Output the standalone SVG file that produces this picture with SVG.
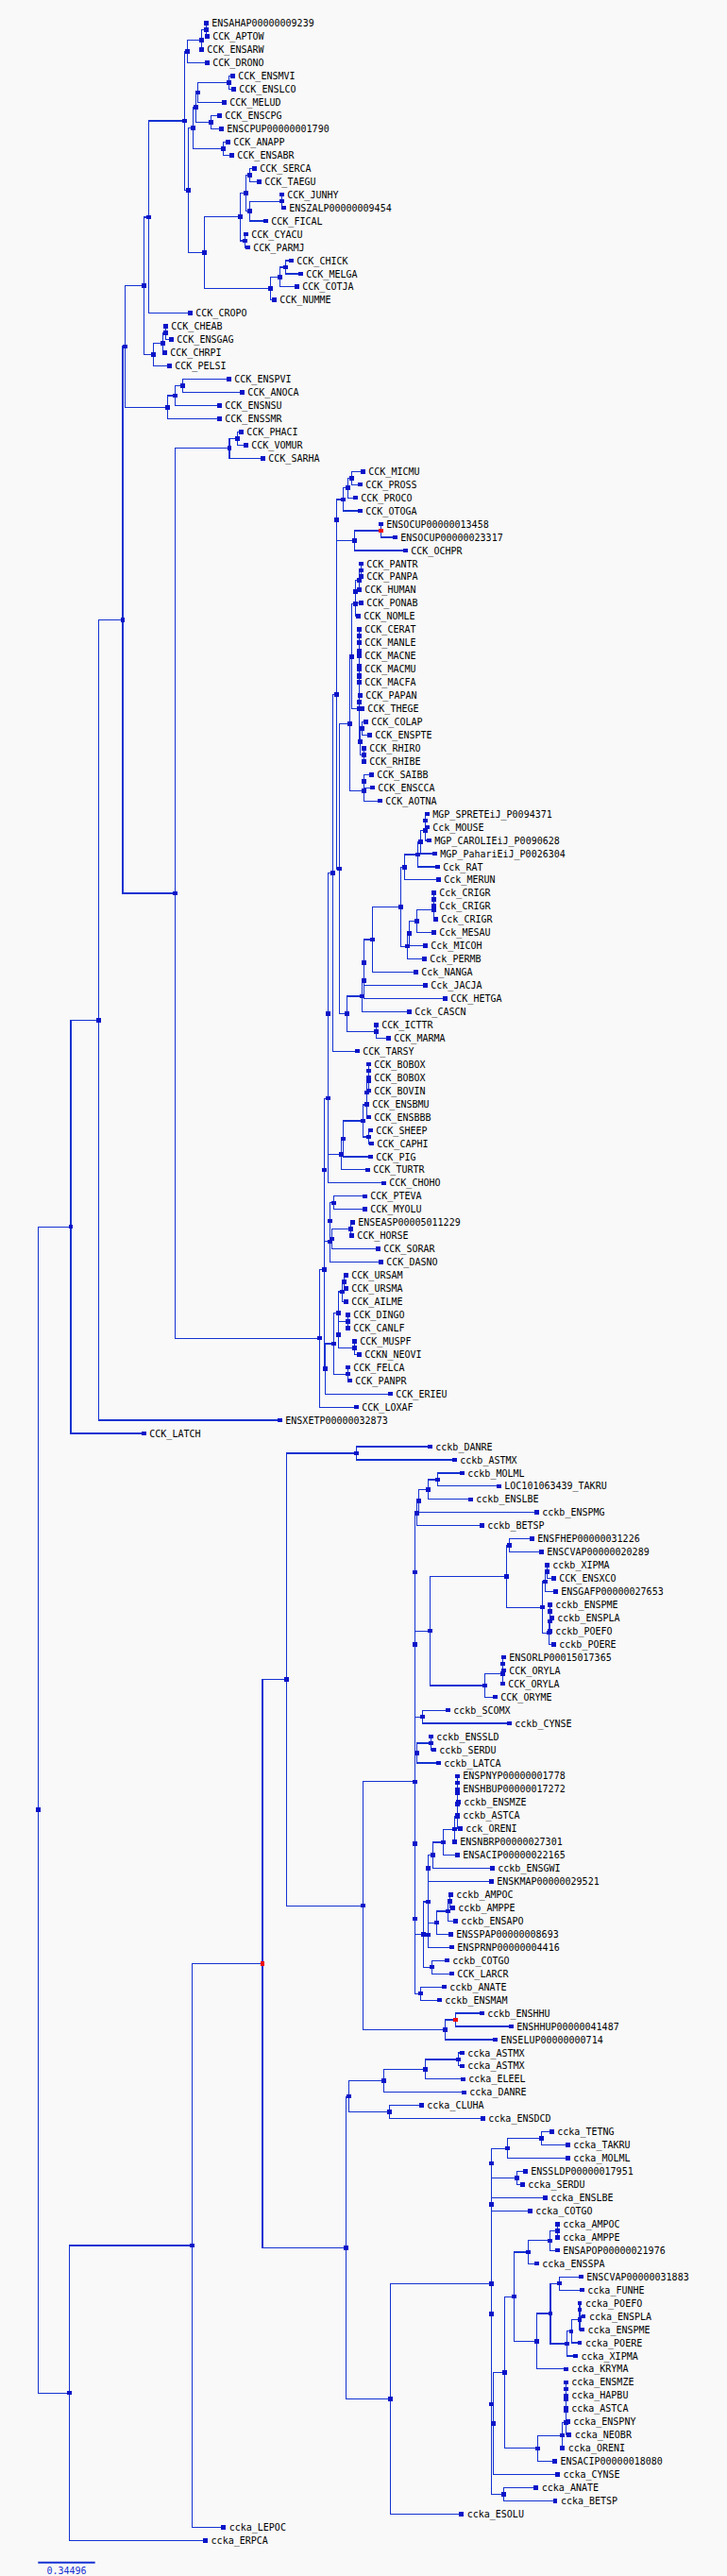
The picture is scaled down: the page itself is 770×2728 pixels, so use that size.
<svg xmlns="http://www.w3.org/2000/svg" xmlns:xlink="http://www.w3.org/1999/xlink" width="770" height="2728" viewBox="0 0 770 2728">
<style>
.br{fill:none;stroke:#1432d2;stroke-width:1.2;shape-rendering:crispEdges}
.nd{fill:#0a14c8;shape-rendering:crispEdges}
.rd{fill:#f00a0a;shape-rendering:crispEdges}
text{font-family:"DejaVu Sans Mono","Liberation Mono",monospace;font-size:10px;fill:#000}
.sc{fill:#1432d2;text-anchor:middle}
</style>
<defs><rect id="sq" x="-2.3" y="-2.3" width="4.6" height="4.6"/></defs>
<rect width="770" height="2728" fill="#f9f9f9"/>
<g id="connectors" class="br">
<path d="M218.3 24.7V38.7H219.3"/>
<path d="M218.3 31.7H213.3V52.6"/>
<path d="M213.3 42.2H198.3V66.6H219.3"/>
<path d="M246.3 80.5H242.3V94.5H247.3"/>
<path d="M242.3 87.5H209.3V108.4H237.3"/>
<path d="M232.3 122.4H223.3V136.3H234.3"/>
<path d="M209.3 98H207.3V129.4H223.3"/>
<path d="M241.3 150.3H236.3V164.3H245.3"/>
<path d="M207.3 113.7H204.3V157.3H236.3"/>
<path d="M269.3 178.2H264.3V192.2H274.3"/>
<path d="M298.3 206.1V220.1H300.3"/>
<path d="M298.3 213.1H264.3V234H281.3"/>
<path d="M264.3 185.2H260.3V223.6H264.3"/>
<path d="M260.3 248H259.3V261.9H262.3"/>
<path d="M260.3 204.4H254.3V255H259.3"/>
<path d="M308.3 275.9H302.3V289.9H318.3"/>
<path d="M302.3 282.9H296.3V303.8H314.3"/>
<path d="M296.3 293.4H286.3V317.8H290.3"/>
<path d="M254.3 229.7H216.3V305.6H286.3"/>
<path d="M204.3 135.5H199.3V267.7H216.3"/>
<path d="M198.3 54.4H195.3V201.6H199.3"/>
<path d="M195.3 128H157.3V331.7H201.3"/>
<path d="M175.3 345.7V359.6H181.3"/>
<path d="M175.3 352.7H172.3V373.6H174.3"/>
<path d="M172.3 363.2H162.3V387.5H179.3"/>
<path d="M157.3 229.9H152.3V375.4H162.3"/>
<path d="M242.3 401.5H193.3V415.4H256.3"/>
<path d="M193.3 408.5H185.3V429.4H232.3"/>
<path d="M185.3 419H177.3V443.4H232.3"/>
<path d="M152.3 302.7H132.3V431.2H177.3"/>
<path d="M255.3 457.3H251.7V471.3H260.3"/>
<path d="M251.7 464.3H243V485.2H278.3"/>
<path d="M384.3 499.2H372.3V513.1H381.3"/>
<path d="M372.3 506.2H368.3V527.1H376.3"/>
<path d="M368.3 516.7H363.3V541H381.3"/>
<path d="M403.3 555V569H418.3"/>
<path d="M403.3 562H375.3V582.9H429.3"/>
<path d="M363.3 528.9H356.3V572.5H375.3"/>
<path d="M382.3 596.9V610.8"/>
<path d="M382.3 603.9H380.3V624.8"/>
<path d="M380.3 614.4H376.3V638.7H382.3"/>
<path d="M376.3 626.6V652.7H379.3"/>
<path d="M380.3 666.6V680.6"/>
<path d="M380.3 708.5V722.5"/>
<path d="M380.3 694.5V715.5"/>
<path d="M380.3 673.6V705"/>
<path d="M381.3 736.4H380.3V750.4H383.3"/>
<path d="M380.3 689.3V743.4"/>
<path d="M387.3 764.3H383.3V778.3H391.3"/>
<path d="M385.3 792.2V806.2"/>
<path d="M383.3 771.3H381.3V799.2H385.3"/>
<path d="M380.3 716.4V785.3H381.3"/>
<path d="M376.3 639.7H372.3V750.8H380.3"/>
<path d="M393.3 820.2H385.3V834.1H394.3"/>
<path d="M385.3 827.2V848.1H402.3"/>
<path d="M372.3 695.3H370.3V837.7H385.3"/>
<path d="M452.3 862.1H450.3V876H452.3"/>
<path d="M450.3 869.1V890H454.3"/>
<path d="M450.3 879.6H445.3V903.9H460.3"/>
<path d="M445.3 891.8H442.3V917.9H463.3"/>
<path d="M442.3 904.9H428.3V931.8H464.3"/>
<path d="M459.3 945.8V959.7"/>
<path d="M459.3 952.8V973.7H461.3"/>
<path d="M459.3 963.3H441.3V987.7H459.3"/>
<path d="M441.3 975.5H433.3V1001.6H450.3"/>
<path d="M433.3 988.6H431.3V1015.6H449.3"/>
<path d="M428.3 918.4H424.3V1002.1H431.3"/>
<path d="M424.3 960.3H394.3V1029.5H440.3"/>
<path d="M394.3 994.9H385.3V1043.5H450.3"/>
<path d="M385.3 1019.2V1057.4H471.3"/>
<path d="M385.3 1038.3H383.3V1071.4H433.3"/>
<path d="M398.3 1085.3V1099.3H411.3"/>
<path d="M383.3 1054.9H367.3V1092.3H398.3"/>
<path d="M370.3 766.5H359.3V1073.6H367.3"/>
<path d="M356.3 550.7V920.1H359.3"/>
<path d="M356.3 735.4H352.3V1113.2H378.3"/>
<path d="M390.3 1127.2V1141.2"/>
<path d="M390.3 1134.2V1155.1"/>
<path d="M390.3 1144.7H388.3V1169.1"/>
<path d="M388.3 1156.9V1183H390.3"/>
<path d="M392.3 1197H390.3V1210.9H393.3"/>
<path d="M388.3 1170H384.3V1204H390.3"/>
<path d="M384.3 1187H363.3V1224.9H392.3"/>
<path d="M363.3 1206H361.3V1238.8H389.3"/>
<path d="M352.3 924.3H347.3V1222.4H361.3"/>
<path d="M347.3 1073.4V1252.8H406.3"/>
<path d="M386.3 1266.8H353.3V1280.7H386.3"/>
<path d="M373.3 1294.7H371.3V1308.6H372.3"/>
<path d="M371.3 1301.7H351.3V1322.6H400.3"/>
<path d="M353.3 1273.8H349.3V1312.2H351.3"/>
<path d="M349.3 1293V1336.5H403.3"/>
<path d="M347.3 1163.1H343.3V1314.8H349.3"/>
<path d="M366.3 1350.5H364.3V1364.4H366.3"/>
<path d="M364.3 1357.5H362.3V1378.4H366.3"/>
<path d="M368.3 1392.3V1406.3"/>
<path d="M375.3 1420.3V1434.3H380.3"/>
<path d="M368.3 1399.3H358.3V1427.3H375.3"/>
<path d="M362.3 1368H358.3V1413.3"/>
<path d="M368.3 1448.2V1462.2H370.3"/>
<path d="M358.3 1390.7H353.3V1455.2H368.3"/>
<path d="M353.3 1423H344.3V1476.1H413.3"/>
<path d="M343.3 1239V1449.6H344.3"/>
<path d="M343.3 1344.3H338.3V1490.1H377.3"/>
<path d="M243 474.8H185.3V1417.2H338.3"/>
<path d="M132.3 367H130V946H185.3"/>
<path d="M130 656.5H104.3V1504H296.3"/>
<path d="M104.3 1080.3H75V1518H152.3"/>
<path d="M455.3 1531.9H377.3V1545.9H481.3"/>
<path d="M489.3 1559.9H463.3V1573.8H528.3"/>
<path d="M463.3 1566.9H453.3V1587.8H498.3"/>
<path d="M453.3 1577.4H443.3V1601.7H568.3"/>
<path d="M443.3 1589.6H441.3V1615.7H510.3"/>
<path d="M563.3 1629.6H539.3V1643.6H573.3"/>
<path d="M579.3 1657.5V1671.5H586.3"/>
<path d="M579.3 1664.5H577.3V1685.5H588.3"/>
<path d="M582.3 1699.4V1713.4H584.3"/>
<path d="M582.3 1706.4V1727.3"/>
<path d="M582.3 1716.9H581.3V1741.3H586.3"/>
<path d="M577.3 1675H574.3V1729.1H581.3"/>
<path d="M539.3 1636.6H536.3V1702.1H574.3"/>
<path d="M533.3 1755.2H532.3V1769.2H533.3"/>
<path d="M532.3 1762.2V1783.1"/>
<path d="M532.3 1772.7H513.3V1797.1H524.3"/>
<path d="M536.3 1669.4H455.3V1784.9H513.3"/>
<path d="M441.3 1602.7H439.3V1727.2H455.3"/>
<path d="M474.3 1811.1H447.7V1825H539.3"/>
<path d="M439.3 1665V1818.1H447.7"/>
<path d="M456.3 1839V1852.9H459.3"/>
<path d="M456.3 1846H441.3V1866.9H464.3"/>
<path d="M484.3 1880.8V1894.8"/>
<path d="M484.3 1887.8V1908.7H485.3"/>
<path d="M484.3 1898.3V1922.7"/>
<path d="M484.3 1910.5V1936.6H487.3"/>
<path d="M484.3 1923.6H481.3V1950.6"/>
<path d="M481.3 1937.1H469.3V1964.6H484.3"/>
<path d="M469.3 1950.9H458.3V1978.5H521.3"/>
<path d="M458.3 1964.7H453.3V1992.5H520.3"/>
<path d="M477.3 2006.4H476.3V2020.4H479.3"/>
<path d="M476.3 2013.4H474.3V2034.3H482.3"/>
<path d="M474.3 2023.9H462.3V2048.3H477.3"/>
<path d="M462.3 2036.1H453.3V2062.2H478.3"/>
<path d="M453.3 1978.6V2049.2"/>
<path d="M473.3 2076.2H457.3V2090.2H478.3"/>
<path d="M453.3 2013.9H448.7V2083.2H457.3"/>
<path d="M441.3 1856.5H439.3V2048.6H448.7"/>
<path d="M470.3 2104.1H445.3V2118.1H465.3"/>
<path d="M439.3 1952.6V2111.1H445.3"/>
<path d="M439.3 1741.6V2031.9"/>
<path d="M510.3 2132H482.3V2146H541.3"/>
<path d="M482.3 2139H471.3V2159.9H524.3"/>
<path d="M439.3 1886.8H384.3V2149.5H471.3"/>
<path d="M377.3 1538.9H303.3V2018.2H384.3"/>
<path d="M489.3 2173.9H485.3V2187.8H489.3"/>
<path d="M485.3 2180.9H450.3V2201.8H490.3"/>
<path d="M450.3 2191.4H406.3V2215.8H491.3"/>
<path d="M446.3 2229.7H412.3V2243.7H511.3"/>
<path d="M406.3 2203.6H369.3V2236.7H412.3"/>
<path d="M584.3 2257.6H573.3V2271.6H601.3"/>
<path d="M573.3 2264.6H537.3V2285.5H601.3"/>
<path d="M556.3 2299.5H547.3V2313.4H553.3"/>
<path d="M537.3 2275.1H520.3V2306.5H547.3"/>
<path d="M577.3 2327.4H520.3V2341.4H561.3"/>
<path d="M590.3 2355.3V2369.3"/>
<path d="M590.3 2362.3H582.3V2383.2H590.3"/>
<path d="M582.3 2372.8H559.7V2397.2H568.3"/>
<path d="M615.3 2411.1H592.3V2425.1H616.3"/>
<path d="M614 2439.1V2453H617.9"/>
<path d="M614 2446.1V2467H616.4"/>
<path d="M614 2456.6H605.1V2480.9H614"/>
<path d="M605.1 2468.8H600.2V2494.9H609.5"/>
<path d="M592.3 2418.1H583V2481.9H600.2"/>
<path d="M583 2450H568.8V2508.8H599.2"/>
<path d="M559.7 2385H544.2V2479.4H568.8"/>
<path d="M599.2 2522.8V2536.8"/>
<path d="M599.2 2529.8V2550.7"/>
<path d="M599.2 2540.3V2564.7H601.2"/>
<path d="M599.2 2552.5V2578.6H602.7"/>
<path d="M599.2 2565.6H595.3V2592.6H595.8"/>
<path d="M595.3 2579.1H569.7V2606.5H587.4"/>
<path d="M544.2 2432.2H534.4V2592.8H569.7"/>
<path d="M534.4 2512.5H522.6V2620.5H590.4"/>
<path d="M520.3 2334.4H520.6V2566.5H522.6"/>
<path d="M567.8 2634.4H533.4V2648.4H587.9"/>
<path d="M520.6 2450.5V2641.4H533.4"/>
<path d="M520.3 2290.8V2546H520.6"/>
<path d="M520.3 2418.4H413.6V2662.4H488.7"/>
<path d="M369.3 2220.2H366.7V2540.4H413.6"/>
<path d="M303.3 1778.6H278V2380.3H366.7"/>
<path d="M278 2079.5H203.3V2676.3H236.7"/>
<path d="M203.3 2377.9H73.7V2690.3H217.6"/>
<path d="M75 1299.2H40.3V2534.1H73.7"/>
</g>
<g id="inner-nodes">
<g id="nA1"><use href="#sq" class="nd" x="218.3" y="31.7"/></g>
<g id="nA2"><use href="#sq" class="nd" x="213.3" y="42.2"/></g>
<g id="nA3"><use href="#sq" class="nd" x="198.3" y="54.4"/></g>
<g id="nB1"><use href="#sq" class="nd" x="242.3" y="87.5"/></g>
<g id="nB2"><use href="#sq" class="nd" x="209.3" y="98"/></g>
<g id="nB3"><use href="#sq" class="nd" x="223.3" y="129.4"/></g>
<g id="nB4"><use href="#sq" class="nd" x="207.3" y="113.7"/></g>
<g id="nB5"><use href="#sq" class="nd" x="236.3" y="157.3"/></g>
<g id="nB6"><use href="#sq" class="nd" x="204.3" y="135.5"/></g>
<g id="nI"><use href="#sq" class="nd" x="264.3" y="185.2"/></g>
<g id="nK"><use href="#sq" class="nd" x="298.3" y="213.1"/></g>
<g id="nJ"><use href="#sq" class="nd" x="264.3" y="223.6"/></g>
<g id="nG"><use href="#sq" class="nd" x="260.3" y="204.4"/></g>
<g id="nH"><use href="#sq" class="nd" x="259.3" y="255"/></g>
<g id="nE"><use href="#sq" class="nd" x="254.3" y="229.7"/></g>
<g id="nM"><use href="#sq" class="nd" x="302.3" y="282.9"/></g>
<g id="nL"><use href="#sq" class="nd" x="296.3" y="293.4"/></g>
<g id="nF"><use href="#sq" class="nd" x="286.3" y="305.6"/></g>
<g id="nD"><use href="#sq" class="nd" x="216.3" y="267.7"/></g>
<g id="nC"><use href="#sq" class="nd" x="199.3" y="201.6"/></g>
<g id="nA4"><use href="#sq" class="nd" x="195.3" y="128"/></g>
<g id="nN"><use href="#sq" class="nd" x="157.3" y="229.9"/></g>
<g id="nR"><use href="#sq" class="nd" x="175.3" y="352.7"/></g>
<g id="nQ"><use href="#sq" class="nd" x="172.3" y="363.2"/></g>
<g id="nP"><use href="#sq" class="nd" x="162.3" y="375.4"/></g>
<g id="nO"><use href="#sq" class="nd" x="152.3" y="302.7"/></g>
<g id="nV"><use href="#sq" class="nd" x="193.3" y="408.5"/></g>
<g id="nU"><use href="#sq" class="nd" x="185.3" y="419"/></g>
<g id="nT"><use href="#sq" class="nd" x="177.3" y="431.2"/></g>
<g id="nS"><use href="#sq" class="nd" x="132.3" y="367"/></g>
<g id="nW"><use href="#sq" class="nd" x="251.7" y="464.3"/></g>
<g id="nMN"><use href="#sq" class="nd" x="243" y="474.8"/></g>
<g id="nm1"><use href="#sq" class="nd" x="372.3" y="506.2"/></g>
<g id="nm2"><use href="#sq" class="nd" x="368.3" y="516.7"/></g>
<g id="nm3"><use href="#sq" class="nd" x="363.3" y="528.9"/></g>
<g id="nROC"><use href="#sq" class="rd" x="403.3" y="562"/></g>
<g id="nLago"><use href="#sq" class="nd" x="375.3" y="572.5"/></g>
<g id="nE1"><use href="#sq" class="nd" x="356.3" y="550.7"/></g>
<g id="nh1"><use href="#sq" class="nd" x="382.3" y="603.9"/></g>
<g id="nh2"><use href="#sq" class="nd" x="380.3" y="614.4"/></g>
<g id="nh3"><use href="#sq" class="nd" x="376.3" y="626.6"/></g>
<g id="nh4"><use href="#sq" class="nd" x="376.3" y="639.7"/></g>
<g id="nc1"><use href="#sq" class="nd" x="380.3" y="673.6"/></g>
<g id="nc2"><use href="#sq" class="nd" x="380.3" y="715.5"/></g>
<g id="nc3"><use href="#sq" class="nd" x="380.3" y="705"/></g>
<g id="nc4"><use href="#sq" class="nd" x="380.3" y="689.3"/></g>
<g id="nc6"><use href="#sq" class="nd" x="380.3" y="743.4"/></g>
<g id="nc5"><use href="#sq" class="nd" x="380.3" y="716.4"/></g>
<g id="ncol1"><use href="#sq" class="nd" x="383.3" y="771.3"/></g>
<g id="ncol2"><use href="#sq" class="nd" x="385.3" y="799.2"/></g>
<g id="ncol"><use href="#sq" class="nd" x="381.3" y="785.3"/></g>
<g id="nOWM"><use href="#sq" class="nd" x="380.3" y="750.8"/></g>
<g id="nCat"><use href="#sq" class="nd" x="372.3" y="695.3"/></g>
<g id="nn1"><use href="#sq" class="nd" x="385.3" y="827.2"/></g>
<g id="nn2"><use href="#sq" class="nd" x="385.3" y="837.7"/></g>
<g id="nPR"><use href="#sq" class="nd" x="370.3" y="766.5"/></g>
<g id="nmo1"><use href="#sq" class="nd" x="450.3" y="869.1"/></g>
<g id="nmo2"><use href="#sq" class="nd" x="450.3" y="879.6"/></g>
<g id="nmo3"><use href="#sq" class="nd" x="445.3" y="891.8"/></g>
<g id="nmo4"><use href="#sq" class="nd" x="442.3" y="904.9"/></g>
<g id="nmo5"><use href="#sq" class="nd" x="428.3" y="918.4"/></g>
<g id="nk1"><use href="#sq" class="nd" x="459.3" y="952.8"/></g>
<g id="nk2"><use href="#sq" class="nd" x="459.3" y="963.3"/></g>
<g id="nk3"><use href="#sq" class="nd" x="441.3" y="975.5"/></g>
<g id="nk4"><use href="#sq" class="nd" x="433.3" y="988.6"/></g>
<g id="nk5"><use href="#sq" class="nd" x="431.3" y="1002.1"/></g>
<g id="nmc"><use href="#sq" class="nd" x="424.3" y="960.3"/></g>
<g id="nr1"><use href="#sq" class="nd" x="394.3" y="994.9"/></g>
<g id="nr3"><use href="#sq" class="nd" x="385.3" y="1019.2"/></g>
<g id="nr2"><use href="#sq" class="nd" x="385.3" y="1038.3"/></g>
<g id="nr4"><use href="#sq" class="nd" x="383.3" y="1054.9"/></g>
<g id="nsq"><use href="#sq" class="nd" x="398.3" y="1092.3"/></g>
<g id="nROD"><use href="#sq" class="nd" x="367.3" y="1073.6"/></g>
<g id="nG1"><use href="#sq" class="nd" x="359.3" y="920.1"/></g>
<g id="nP1"><use href="#sq" class="nd" x="356.3" y="735.4"/></g>
<g id="nQ1"><use href="#sq" class="nd" x="352.3" y="924.3"/></g>
<g id="nb1"><use href="#sq" class="nd" x="390.3" y="1134.2"/></g>
<g id="nb2"><use href="#sq" class="nd" x="390.3" y="1144.7"/></g>
<g id="nb3"><use href="#sq" class="nd" x="388.3" y="1156.9"/></g>
<g id="nb4"><use href="#sq" class="nd" x="388.3" y="1170"/></g>
<g id="nsh"><use href="#sq" class="nd" x="390.3" y="1204"/></g>
<g id="nrum"><use href="#sq" class="nd" x="384.3" y="1187"/></g>
<g id="nart"><use href="#sq" class="nd" x="363.3" y="1206"/></g>
<g id="ncet"><use href="#sq" class="nd" x="361.3" y="1222.4"/></g>
<g id="nQ2"><use href="#sq" class="nd" x="347.3" y="1073.4"/></g>
<g id="nQ3"><use href="#sq" class="nd" x="347.3" y="1163.1"/></g>
<g id="nbat"><use href="#sq" class="nd" x="353.3" y="1273.8"/></g>
<g id="neq"><use href="#sq" class="nd" x="371.3" y="1301.7"/></g>
<g id="nQ9"><use href="#sq" class="nd" x="351.3" y="1312.2"/></g>
<g id="nQ8"><use href="#sq" class="nd" x="349.3" y="1293"/></g>
<g id="nQ7"><use href="#sq" class="nd" x="349.3" y="1314.8"/></g>
<g id="nQ4"><use href="#sq" class="nd" x="343.3" y="1239"/></g>
<g id="nbear1"><use href="#sq" class="nd" x="364.3" y="1357.5"/></g>
<g id="nbear"><use href="#sq" class="nd" x="362.3" y="1368"/></g>
<g id="ncan"><use href="#sq" class="nd" x="368.3" y="1399.3"/></g>
<g id="nmus"><use href="#sq" class="nd" x="375.3" y="1427.3"/></g>
<g id="nC2"><use href="#sq" class="nd" x="358.3" y="1413.3"/></g>
<g id="nC1"><use href="#sq" class="nd" x="358.3" y="1390.7"/></g>
<g id="nfel"><use href="#sq" class="nd" x="368.3" y="1455.2"/></g>
<g id="nC0"><use href="#sq" class="nd" x="353.3" y="1423"/></g>
<g id="nQ6"><use href="#sq" class="nd" x="344.3" y="1449.6"/></g>
<g id="nQ5"><use href="#sq" class="nd" x="343.3" y="1344.3"/></g>
<g id="nEU"><use href="#sq" class="nd" x="338.3" y="1417.2"/></g>
<g id="nM0"><use href="#sq" class="nd" x="185.3" y="946"/></g>
<g id="nAM"><use href="#sq" class="nd" x="130" y="656.5"/></g>
<g id="nTP"><use href="#sq" class="nd" x="104.3" y="1080.3"/></g>
<g id="nSA"><use href="#sq" class="nd" x="75" y="1299.2"/></g>
<g id="nF1"><use href="#sq" class="nd" x="377.3" y="1538.9"/></g>
<g id="nf1"><use href="#sq" class="nd" x="463.3" y="1566.9"/></g>
<g id="nf2"><use href="#sq" class="nd" x="453.3" y="1577.4"/></g>
<g id="nf3"><use href="#sq" class="nd" x="443.3" y="1589.6"/></g>
<g id="nf4"><use href="#sq" class="nd" x="441.3" y="1602.7"/></g>
<g id="ncv1"><use href="#sq" class="nd" x="539.3" y="1636.6"/></g>
<g id="nx1"><use href="#sq" class="nd" x="579.3" y="1664.5"/></g>
<g id="nx2"><use href="#sq" class="nd" x="577.3" y="1675"/></g>
<g id="np1"><use href="#sq" class="nd" x="582.3" y="1706.4"/></g>
<g id="np2"><use href="#sq" class="nd" x="582.3" y="1716.9"/></g>
<g id="np3"><use href="#sq" class="nd" x="581.3" y="1729.1"/></g>
<g id="npc"><use href="#sq" class="nd" x="574.3" y="1702.1"/></g>
<g id="ncyp"><use href="#sq" class="nd" x="536.3" y="1669.4"/></g>
<g id="no1"><use href="#sq" class="nd" x="532.3" y="1762.2"/></g>
<g id="no2"><use href="#sq" class="nd" x="532.3" y="1772.7"/></g>
<g id="nory"><use href="#sq" class="nd" x="513.3" y="1784.9"/></g>
<g id="nz2"><use href="#sq" class="nd" x="455.3" y="1727.2"/></g>
<g id="nz1"><use href="#sq" class="nd" x="439.3" y="1665"/></g>
<g id="nsc"><use href="#sq" class="nd" x="447.7" y="1818.1"/></g>
<g id="nz3"><use href="#sq" class="nd" x="439.3" y="1741.6"/></g>
<g id="nsd"><use href="#sq" class="nd" x="456.3" y="1846"/></g>
<g id="nz5"><use href="#sq" class="nd" x="441.3" y="1856.5"/></g>
<g id="nci1"><use href="#sq" class="nd" x="484.3" y="1887.8"/></g>
<g id="nci2"><use href="#sq" class="nd" x="484.3" y="1898.3"/></g>
<g id="nci3"><use href="#sq" class="nd" x="484.3" y="1910.5"/></g>
<g id="nci4"><use href="#sq" class="nd" x="484.3" y="1923.6"/></g>
<g id="na1"><use href="#sq" class="nd" x="481.3" y="1937.1"/></g>
<g id="na2"><use href="#sq" class="nd" x="469.3" y="1950.9"/></g>
<g id="na3"><use href="#sq" class="nd" x="458.3" y="1964.7"/></g>
<g id="na4"><use href="#sq" class="nd" x="453.3" y="1978.6"/></g>
<g id="nam1"><use href="#sq" class="nd" x="476.3" y="2013.4"/></g>
<g id="nam2"><use href="#sq" class="nd" x="474.3" y="2023.9"/></g>
<g id="nam3"><use href="#sq" class="nd" x="462.3" y="2036.1"/></g>
<g id="na6"><use href="#sq" class="nd" x="453.3" y="2049.2"/></g>
<g id="na5"><use href="#sq" class="nd" x="453.3" y="2013.9"/></g>
<g id="ncl"><use href="#sq" class="nd" x="457.3" y="2083.2"/></g>
<g id="nz8"><use href="#sq" class="nd" x="448.7" y="2048.6"/></g>
<g id="nz7"><use href="#sq" class="nd" x="439.3" y="1952.6"/></g>
<g id="nan"><use href="#sq" class="nd" x="445.3" y="2111.1"/></g>
<g id="nz6"><use href="#sq" class="nd" x="439.3" y="2031.9"/></g>
<g id="nZ"><use href="#sq" class="nd" x="439.3" y="1886.8"/></g>
<g id="nRH"><use href="#sq" class="rd" x="482.3" y="2139"/></g>
<g id="nHH"><use href="#sq" class="nd" x="471.3" y="2149.5"/></g>
<g id="nY1"><use href="#sq" class="nd" x="384.3" y="2018.2"/></g>
<g id="nY2"><use href="#sq" class="nd" x="303.3" y="1778.6"/></g>
<g id="nas1"><use href="#sq" class="nd" x="485.3" y="2180.9"/></g>
<g id="nas2"><use href="#sq" class="nd" x="450.3" y="2191.4"/></g>
<g id="nas3"><use href="#sq" class="nd" x="406.3" y="2203.6"/></g>
<g id="ncu"><use href="#sq" class="nd" x="412.3" y="2236.7"/></g>
<g id="ncA"><use href="#sq" class="nd" x="369.3" y="2220.2"/></g>
<g id="nt1"><use href="#sq" class="nd" x="573.3" y="2264.6"/></g>
<g id="nt2"><use href="#sq" class="nd" x="537.3" y="2275.1"/></g>
<g id="ns1"><use href="#sq" class="nd" x="547.3" y="2306.5"/></g>
<g id="nu1"><use href="#sq" class="nd" x="520.3" y="2290.8"/></g>
<g id="nlb"><use href="#sq" class="nd" x="520.3" y="2334.4"/></g>
<g id="namp1"><use href="#sq" class="nd" x="590.3" y="2362.3"/></g>
<g id="namp2"><use href="#sq" class="nd" x="582.3" y="2372.8"/></g>
<g id="namp3"><use href="#sq" class="nd" x="559.7" y="2385"/></g>
<g id="nfu"><use href="#sq" class="nd" x="592.3" y="2418.1"/></g>
<g id="npo1"><use href="#sq" class="nd" x="614" y="2446.1"/></g>
<g id="npo2"><use href="#sq" class="nd" x="614" y="2456.6"/></g>
<g id="npo3"><use href="#sq" class="nd" x="605.1" y="2468.8"/></g>
<g id="npo4"><use href="#sq" class="nd" x="600.2" y="2481.9"/></g>
<g id="nfp"><use href="#sq" class="nd" x="583" y="2450"/></g>
<g id="nkr"><use href="#sq" class="nd" x="568.8" y="2479.4"/></g>
<g id="nk_1"><use href="#sq" class="nd" x="544.2" y="2432.2"/></g>
<g id="nhb1"><use href="#sq" class="nd" x="599.2" y="2529.8"/></g>
<g id="nhb2"><use href="#sq" class="nd" x="599.2" y="2540.3"/></g>
<g id="nhb3"><use href="#sq" class="nd" x="599.2" y="2552.5"/></g>
<g id="nhb4"><use href="#sq" class="nd" x="599.2" y="2565.6"/></g>
<g id="nhb5"><use href="#sq" class="nd" x="595.3" y="2579.1"/></g>
<g id="nhb6"><use href="#sq" class="nd" x="569.7" y="2592.8"/></g>
<g id="nk_0"><use href="#sq" class="nd" x="534.4" y="2512.5"/></g>
<g id="ncy"><use href="#sq" class="nd" x="522.6" y="2566.5"/></g>
<g id="nn_b"><use href="#sq" class="nd" x="520.6" y="2450.5"/></g>
<g id="nab"><use href="#sq" class="nd" x="533.4" y="2641.4"/></g>
<g id="nn_a"><use href="#sq" class="nd" x="520.6" y="2546"/></g>
<g id="ncC"><use href="#sq" class="nd" x="520.3" y="2418.4"/></g>
<g id="ncB"><use href="#sq" class="nd" x="413.6" y="2540.4"/></g>
<g id="nCR"><use href="#sq" class="nd" x="366.7" y="2380.3"/></g>
<g id="nRN"><use href="#sq" class="rd" x="278" y="2079.5"/></g>
<g id="nLP"><use href="#sq" class="nd" x="203.3" y="2377.9"/></g>
<g id="nX1"><use href="#sq" class="nd" x="73.7" y="2534.1"/></g>
<g id="nR0"><use href="#sq" class="nd" x="40.3" y="1916.7"/></g>
</g>
<g id="leaves">
<g id="L001" transform="translate(218.3 24.7)"><use href="#sq" class="nd"/><text x="6" y="3.6">ENSAHAP00000009239</text></g>
<g id="L002" transform="translate(219.3 38.7)"><use href="#sq" class="nd"/><text x="6" y="3.6">CCK_APTOW</text></g>
<g id="L003" transform="translate(213.3 52.6)"><use href="#sq" class="nd"/><text x="6" y="3.6">CCK_ENSARW</text></g>
<g id="L004" transform="translate(219.3 66.6)"><use href="#sq" class="nd"/><text x="6" y="3.6">CCK_DRONO</text></g>
<g id="L005" transform="translate(246.3 80.5)"><use href="#sq" class="nd"/><text x="6" y="3.6">CCK_ENSMVI</text></g>
<g id="L006" transform="translate(247.3 94.5)"><use href="#sq" class="nd"/><text x="6" y="3.6">CCK_ENSLCO</text></g>
<g id="L007" transform="translate(237.3 108.4)"><use href="#sq" class="nd"/><text x="6" y="3.6">CCK_MELUD</text></g>
<g id="L008" transform="translate(232.3 122.4)"><use href="#sq" class="nd"/><text x="6" y="3.6">CCK_ENSCPG</text></g>
<g id="L009" transform="translate(234.3 136.3)"><use href="#sq" class="nd"/><text x="6" y="3.6">ENSCPUP00000001790</text></g>
<g id="L010" transform="translate(241.3 150.3)"><use href="#sq" class="nd"/><text x="6" y="3.6">CCK_ANAPP</text></g>
<g id="L011" transform="translate(245.3 164.3)"><use href="#sq" class="nd"/><text x="6" y="3.6">CCK_ENSABR</text></g>
<g id="L012" transform="translate(269.3 178.2)"><use href="#sq" class="nd"/><text x="6" y="3.6">CCK_SERCA</text></g>
<g id="L013" transform="translate(274.3 192.2)"><use href="#sq" class="nd"/><text x="6" y="3.6">CCK_TAEGU</text></g>
<g id="L014" transform="translate(298.3 206.1)"><use href="#sq" class="nd"/><text x="6" y="3.6">CCK_JUNHY</text></g>
<g id="L015" transform="translate(300.3 220.1)"><use href="#sq" class="nd"/><text x="6" y="3.6">ENSZALP00000009454</text></g>
<g id="L016" transform="translate(281.3 234)"><use href="#sq" class="nd"/><text x="6" y="3.6">CCK_FICAL</text></g>
<g id="L017" transform="translate(260.3 248)"><use href="#sq" class="nd"/><text x="6" y="3.6">CCK_CYACU</text></g>
<g id="L018" transform="translate(262.3 261.9)"><use href="#sq" class="nd"/><text x="6" y="3.6">CCK_PARMJ</text></g>
<g id="L019" transform="translate(308.3 275.9)"><use href="#sq" class="nd"/><text x="6" y="3.6">CCK_CHICK</text></g>
<g id="L020" transform="translate(318.3 289.9)"><use href="#sq" class="nd"/><text x="6" y="3.6">CCK_MELGA</text></g>
<g id="L021" transform="translate(314.3 303.8)"><use href="#sq" class="nd"/><text x="6" y="3.6">CCK_COTJA</text></g>
<g id="L022" transform="translate(290.3 317.8)"><use href="#sq" class="nd"/><text x="6" y="3.6">CCK_NUMME</text></g>
<g id="L023" transform="translate(201.3 331.7)"><use href="#sq" class="nd"/><text x="6" y="3.6">CCK_CROPO</text></g>
<g id="L024" transform="translate(175.3 345.7)"><use href="#sq" class="nd"/><text x="6" y="3.6">CCK_CHEAB</text></g>
<g id="L025" transform="translate(181.3 359.6)"><use href="#sq" class="nd"/><text x="6" y="3.6">CCK_ENSGAG</text></g>
<g id="L026" transform="translate(174.3 373.6)"><use href="#sq" class="nd"/><text x="6" y="3.6">CCK_CHRPI</text></g>
<g id="L027" transform="translate(179.3 387.5)"><use href="#sq" class="nd"/><text x="6" y="3.6">CCK_PELSI</text></g>
<g id="L028" transform="translate(242.3 401.5)"><use href="#sq" class="nd"/><text x="6" y="3.6">CCK_ENSPVI</text></g>
<g id="L029" transform="translate(256.3 415.4)"><use href="#sq" class="nd"/><text x="6" y="3.6">CCK_ANOCA</text></g>
<g id="L030" transform="translate(232.3 429.4)"><use href="#sq" class="nd"/><text x="6" y="3.6">CCK_ENSNSU</text></g>
<g id="L031" transform="translate(232.3 443.4)"><use href="#sq" class="nd"/><text x="6" y="3.6">CCK_ENSSMR</text></g>
<g id="L032" transform="translate(255.3 457.3)"><use href="#sq" class="nd"/><text x="6" y="3.6">CCK_PHACI</text></g>
<g id="L033" transform="translate(260.3 471.3)"><use href="#sq" class="nd"/><text x="6" y="3.6">CCK_VOMUR</text></g>
<g id="L034" transform="translate(278.3 485.2)"><use href="#sq" class="nd"/><text x="6" y="3.6">CCK_SARHA</text></g>
<g id="L035" transform="translate(384.3 499.2)"><use href="#sq" class="nd"/><text x="6" y="3.6">CCK_MICMU</text></g>
<g id="L036" transform="translate(381.3 513.1)"><use href="#sq" class="nd"/><text x="6" y="3.6">CCK_PROSS</text></g>
<g id="L037" transform="translate(376.3 527.1)"><use href="#sq" class="nd"/><text x="6" y="3.6">CCK_PROCO</text></g>
<g id="L038" transform="translate(381.3 541)"><use href="#sq" class="nd"/><text x="6" y="3.6">CCK_OTOGA</text></g>
<g id="L039" transform="translate(403.3 555)"><use href="#sq" class="nd"/><text x="6" y="3.6">ENSOCUP00000013458</text></g>
<g id="L040" transform="translate(418.3 569)"><use href="#sq" class="nd"/><text x="6" y="3.6">ENSOCUP00000023317</text></g>
<g id="L041" transform="translate(429.3 582.9)"><use href="#sq" class="nd"/><text x="6" y="3.6">CCK_OCHPR</text></g>
<g id="L042" transform="translate(382.3 596.9)"><use href="#sq" class="nd"/><text x="6" y="3.6">CCK_PANTR</text></g>
<g id="L043" transform="translate(382.3 610.8)"><use href="#sq" class="nd"/><text x="6" y="3.6">CCK_PANPA</text></g>
<g id="L044" transform="translate(380.3 624.8)"><use href="#sq" class="nd"/><text x="6" y="3.6">CCK_HUMAN</text></g>
<g id="L045" transform="translate(382.3 638.7)"><use href="#sq" class="nd"/><text x="6" y="3.6">CCK_PONAB</text></g>
<g id="L046" transform="translate(379.3 652.7)"><use href="#sq" class="nd"/><text x="6" y="3.6">CCK_NOMLE</text></g>
<g id="L047" transform="translate(380.3 666.6)"><use href="#sq" class="nd"/><text x="6" y="3.6">CCK_CERAT</text></g>
<g id="L048" transform="translate(380.3 680.6)"><use href="#sq" class="nd"/><text x="6" y="3.6">CCK_MANLE</text></g>
<g id="L049" transform="translate(380.3 694.5)"><use href="#sq" class="nd"/><text x="6" y="3.6">CCK_MACNE</text></g>
<g id="L050" transform="translate(380.3 708.5)"><use href="#sq" class="nd"/><text x="6" y="3.6">CCK_MACMU</text></g>
<g id="L051" transform="translate(380.3 722.5)"><use href="#sq" class="nd"/><text x="6" y="3.6">CCK_MACFA</text></g>
<g id="L052" transform="translate(381.3 736.4)"><use href="#sq" class="nd"/><text x="6" y="3.6">CCK_PAPAN</text></g>
<g id="L053" transform="translate(383.3 750.4)"><use href="#sq" class="nd"/><text x="6" y="3.6">CCK_THEGE</text></g>
<g id="L054" transform="translate(387.3 764.3)"><use href="#sq" class="nd"/><text x="6" y="3.6">CCK_COLAP</text></g>
<g id="L055" transform="translate(391.3 778.3)"><use href="#sq" class="nd"/><text x="6" y="3.6">CCK_ENSPTE</text></g>
<g id="L056" transform="translate(385.3 792.2)"><use href="#sq" class="nd"/><text x="6" y="3.6">CCK_RHIRO</text></g>
<g id="L057" transform="translate(385.3 806.2)"><use href="#sq" class="nd"/><text x="6" y="3.6">CCK_RHIBE</text></g>
<g id="L058" transform="translate(393.3 820.2)"><use href="#sq" class="nd"/><text x="6" y="3.6">CCK_SAIBB</text></g>
<g id="L059" transform="translate(394.3 834.1)"><use href="#sq" class="nd"/><text x="6" y="3.6">CCK_ENSCCA</text></g>
<g id="L060" transform="translate(402.3 848.1)"><use href="#sq" class="nd"/><text x="6" y="3.6">CCK_AOTNA</text></g>
<g id="L061" transform="translate(452.3 862.1)"><use href="#sq" class="nd"/><text x="6" y="3.6">MGP_SPRETEiJ_P0094371</text></g>
<g id="L062" transform="translate(452.3 876)"><use href="#sq" class="nd"/><text x="6" y="3.6">Cck_MOUSE</text></g>
<g id="L063" transform="translate(454.3 890)"><use href="#sq" class="nd"/><text x="6" y="3.6">MGP_CAROLIEiJ_P0090628</text></g>
<g id="L064" transform="translate(460.3 903.9)"><use href="#sq" class="nd"/><text x="6" y="3.6">MGP_PahariEiJ_P0026304</text></g>
<g id="L065" transform="translate(463.3 917.9)"><use href="#sq" class="nd"/><text x="6" y="3.6">Cck_RAT</text></g>
<g id="L066" transform="translate(464.3 931.8)"><use href="#sq" class="nd"/><text x="6" y="3.6">Cck_MERUN</text></g>
<g id="L067" transform="translate(459.3 945.8)"><use href="#sq" class="nd"/><text x="6" y="3.6">Cck_CRIGR</text></g>
<g id="L068" transform="translate(459.3 959.7)"><use href="#sq" class="nd"/><text x="6" y="3.6">Cck_CRIGR</text></g>
<g id="L069" transform="translate(461.3 973.7)"><use href="#sq" class="nd"/><text x="6" y="3.6">Cck_CRIGR</text></g>
<g id="L070" transform="translate(459.3 987.7)"><use href="#sq" class="nd"/><text x="6" y="3.6">Cck_MESAU</text></g>
<g id="L071" transform="translate(450.3 1001.6)"><use href="#sq" class="nd"/><text x="6" y="3.6">Cck_MICOH</text></g>
<g id="L072" transform="translate(449.3 1015.6)"><use href="#sq" class="nd"/><text x="6" y="3.6">Cck_PERMB</text></g>
<g id="L073" transform="translate(440.3 1029.5)"><use href="#sq" class="nd"/><text x="6" y="3.6">Cck_NANGA</text></g>
<g id="L074" transform="translate(450.3 1043.5)"><use href="#sq" class="nd"/><text x="6" y="3.6">Cck_JACJA</text></g>
<g id="L075" transform="translate(471.3 1057.4)"><use href="#sq" class="nd"/><text x="6" y="3.6">CCK_HETGA</text></g>
<g id="L076" transform="translate(433.3 1071.4)"><use href="#sq" class="nd"/><text x="6" y="3.6">Cck_CASCN</text></g>
<g id="L077" transform="translate(398.3 1085.3)"><use href="#sq" class="nd"/><text x="6" y="3.6">CCK_ICTTR</text></g>
<g id="L078" transform="translate(411.3 1099.3)"><use href="#sq" class="nd"/><text x="6" y="3.6">CCK_MARMA</text></g>
<g id="L079" transform="translate(378.3 1113.2)"><use href="#sq" class="nd"/><text x="6" y="3.6">CCK_TARSY</text></g>
<g id="L080" transform="translate(390.3 1127.2)"><use href="#sq" class="nd"/><text x="6" y="3.6">CCK_BOBOX</text></g>
<g id="L081" transform="translate(390.3 1141.2)"><use href="#sq" class="nd"/><text x="6" y="3.6">CCK_BOBOX</text></g>
<g id="L082" transform="translate(390.3 1155.1)"><use href="#sq" class="nd"/><text x="6" y="3.6">CCK_BOVIN</text></g>
<g id="L083" transform="translate(388.3 1169.1)"><use href="#sq" class="nd"/><text x="6" y="3.6">CCK_ENSBMU</text></g>
<g id="L084" transform="translate(390.3 1183)"><use href="#sq" class="nd"/><text x="6" y="3.6">CCK_ENSBBB</text></g>
<g id="L085" transform="translate(392.3 1197)"><use href="#sq" class="nd"/><text x="6" y="3.6">CCK_SHEEP</text></g>
<g id="L086" transform="translate(393.3 1210.9)"><use href="#sq" class="nd"/><text x="6" y="3.6">CCK_CAPHI</text></g>
<g id="L087" transform="translate(392.3 1224.9)"><use href="#sq" class="nd"/><text x="6" y="3.6">CCK_PIG</text></g>
<g id="L088" transform="translate(389.3 1238.8)"><use href="#sq" class="nd"/><text x="6" y="3.6">CCK_TURTR</text></g>
<g id="L089" transform="translate(406.3 1252.8)"><use href="#sq" class="nd"/><text x="6" y="3.6">CCK_CHOHO</text></g>
<g id="L090" transform="translate(386.3 1266.8)"><use href="#sq" class="nd"/><text x="6" y="3.6">CCK_PTEVA</text></g>
<g id="L091" transform="translate(386.3 1280.7)"><use href="#sq" class="nd"/><text x="6" y="3.6">CCK_MYOLU</text></g>
<g id="L092" transform="translate(373.3 1294.7)"><use href="#sq" class="nd"/><text x="6" y="3.6">ENSEASP00005011229</text></g>
<g id="L093" transform="translate(372.3 1308.6)"><use href="#sq" class="nd"/><text x="6" y="3.6">CCK_HORSE</text></g>
<g id="L094" transform="translate(400.3 1322.6)"><use href="#sq" class="nd"/><text x="6" y="3.6">CCK_SORAR</text></g>
<g id="L095" transform="translate(403.3 1336.5)"><use href="#sq" class="nd"/><text x="6" y="3.6">CCK_DASNO</text></g>
<g id="L096" transform="translate(366.3 1350.5)"><use href="#sq" class="nd"/><text x="6" y="3.6">CCK_URSAM</text></g>
<g id="L097" transform="translate(366.3 1364.4)"><use href="#sq" class="nd"/><text x="6" y="3.6">CCK_URSMA</text></g>
<g id="L098" transform="translate(366.3 1378.4)"><use href="#sq" class="nd"/><text x="6" y="3.6">CCK_AILME</text></g>
<g id="L099" transform="translate(368.3 1392.3)"><use href="#sq" class="nd"/><text x="6" y="3.6">CCK_DINGO</text></g>
<g id="L100" transform="translate(368.3 1406.3)"><use href="#sq" class="nd"/><text x="6" y="3.6">CCK_CANLF</text></g>
<g id="L101" transform="translate(375.3 1420.3)"><use href="#sq" class="nd"/><text x="6" y="3.6">CCK_MUSPF</text></g>
<g id="L102" transform="translate(380.3 1434.3)"><use href="#sq" class="nd"/><text x="6" y="3.6">CCKN_NEOVI</text></g>
<g id="L103" transform="translate(368.3 1448.2)"><use href="#sq" class="nd"/><text x="6" y="3.6">CCK_FELCA</text></g>
<g id="L104" transform="translate(370.3 1462.2)"><use href="#sq" class="nd"/><text x="6" y="3.6">CCK_PANPR</text></g>
<g id="L105" transform="translate(413.3 1476.1)"><use href="#sq" class="nd"/><text x="6" y="3.6">CCK_ERIEU</text></g>
<g id="L106" transform="translate(377.3 1490.1)"><use href="#sq" class="nd"/><text x="6" y="3.6">CCK_LOXAF</text></g>
<g id="L107" transform="translate(296.3 1504)"><use href="#sq" class="nd"/><text x="6" y="3.6">ENSXETP00000032873</text></g>
<g id="L108" transform="translate(152.3 1518)"><use href="#sq" class="nd"/><text x="6" y="3.6">CCK_LATCH</text></g>
<g id="L109" transform="translate(455.3 1531.9)"><use href="#sq" class="nd"/><text x="6" y="3.6">cckb_DANRE</text></g>
<g id="L110" transform="translate(481.3 1545.9)"><use href="#sq" class="nd"/><text x="6" y="3.6">cckb_ASTMX</text></g>
<g id="L111" transform="translate(489.3 1559.9)"><use href="#sq" class="nd"/><text x="6" y="3.6">cckb_MOLML</text></g>
<g id="L112" transform="translate(528.3 1573.8)"><use href="#sq" class="nd"/><text x="6" y="3.6">LOC101063439_TAKRU</text></g>
<g id="L113" transform="translate(498.3 1587.8)"><use href="#sq" class="nd"/><text x="6" y="3.6">cckb_ENSLBE</text></g>
<g id="L114" transform="translate(568.3 1601.7)"><use href="#sq" class="nd"/><text x="6" y="3.6">cckb_ENSPMG</text></g>
<g id="L115" transform="translate(510.3 1615.7)"><use href="#sq" class="nd"/><text x="6" y="3.6">cckb_BETSP</text></g>
<g id="L116" transform="translate(563.3 1629.6)"><use href="#sq" class="nd"/><text x="6" y="3.6">ENSFHEP00000031226</text></g>
<g id="L117" transform="translate(573.3 1643.6)"><use href="#sq" class="nd"/><text x="6" y="3.6">ENSCVAP00000020289</text></g>
<g id="L118" transform="translate(579.3 1657.5)"><use href="#sq" class="nd"/><text x="6" y="3.6">cckb_XIPMA</text></g>
<g id="L119" transform="translate(586.3 1671.5)"><use href="#sq" class="nd"/><text x="6" y="3.6">CCK_ENSXCO</text></g>
<g id="L120" transform="translate(588.3 1685.5)"><use href="#sq" class="nd"/><text x="6" y="3.6">ENSGAFP00000027653</text></g>
<g id="L121" transform="translate(582.3 1699.4)"><use href="#sq" class="nd"/><text x="6" y="3.6">cckb_ENSPME</text></g>
<g id="L122" transform="translate(584.3 1713.4)"><use href="#sq" class="nd"/><text x="6" y="3.6">cckb_ENSPLA</text></g>
<g id="L123" transform="translate(582.3 1727.3)"><use href="#sq" class="nd"/><text x="6" y="3.6">cckb_POEFO</text></g>
<g id="L124" transform="translate(586.3 1741.3)"><use href="#sq" class="nd"/><text x="6" y="3.6">cckb_POERE</text></g>
<g id="L125" transform="translate(533.3 1755.2)"><use href="#sq" class="nd"/><text x="6" y="3.6">ENSORLP00015017365</text></g>
<g id="L126" transform="translate(533.3 1769.2)"><use href="#sq" class="nd"/><text x="6" y="3.6">CCK_ORYLA</text></g>
<g id="L127" transform="translate(532.3 1783.1)"><use href="#sq" class="nd"/><text x="6" y="3.6">CCK_ORYLA</text></g>
<g id="L128" transform="translate(524.3 1797.1)"><use href="#sq" class="nd"/><text x="6" y="3.6">CCK_ORYME</text></g>
<g id="L129" transform="translate(474.3 1811.1)"><use href="#sq" class="nd"/><text x="6" y="3.6">cckb_SCOMX</text></g>
<g id="L130" transform="translate(539.3 1825)"><use href="#sq" class="nd"/><text x="6" y="3.6">cckb_CYNSE</text></g>
<g id="L131" transform="translate(456.3 1839)"><use href="#sq" class="nd"/><text x="6" y="3.6">cckb_ENSSLD</text></g>
<g id="L132" transform="translate(459.3 1852.9)"><use href="#sq" class="nd"/><text x="6" y="3.6">cckb_SERDU</text></g>
<g id="L133" transform="translate(464.3 1866.9)"><use href="#sq" class="nd"/><text x="6" y="3.6">cckb_LATCA</text></g>
<g id="L134" transform="translate(484.3 1880.8)"><use href="#sq" class="nd"/><text x="6" y="3.6">ENSPNYP00000001778</text></g>
<g id="L135" transform="translate(484.3 1894.8)"><use href="#sq" class="nd"/><text x="6" y="3.6">ENSHBUP00000017272</text></g>
<g id="L136" transform="translate(485.3 1908.7)"><use href="#sq" class="nd"/><text x="6" y="3.6">cckb_ENSMZE</text></g>
<g id="L137" transform="translate(484.3 1922.7)"><use href="#sq" class="nd"/><text x="6" y="3.6">cckb_ASTCA</text></g>
<g id="L138" transform="translate(487.3 1936.6)"><use href="#sq" class="nd"/><text x="6" y="3.6">cck_ORENI</text></g>
<g id="L139" transform="translate(481.3 1950.6)"><use href="#sq" class="nd"/><text x="6" y="3.6">ENSNBRP00000027301</text></g>
<g id="L140" transform="translate(484.3 1964.6)"><use href="#sq" class="nd"/><text x="6" y="3.6">ENSACIP00000022165</text></g>
<g id="L141" transform="translate(521.3 1978.5)"><use href="#sq" class="nd"/><text x="6" y="3.6">cckb_ENSGWI</text></g>
<g id="L142" transform="translate(520.3 1992.5)"><use href="#sq" class="nd"/><text x="6" y="3.6">ENSKMAP00000029521</text></g>
<g id="L143" transform="translate(477.3 2006.4)"><use href="#sq" class="nd"/><text x="6" y="3.6">cckb_AMPOC</text></g>
<g id="L144" transform="translate(479.3 2020.4)"><use href="#sq" class="nd"/><text x="6" y="3.6">cckb_AMPPE</text></g>
<g id="L145" transform="translate(482.3 2034.3)"><use href="#sq" class="nd"/><text x="6" y="3.6">cckb_ENSAPO</text></g>
<g id="L146" transform="translate(477.3 2048.3)"><use href="#sq" class="nd"/><text x="6" y="3.6">ENSSPAP00000008693</text></g>
<g id="L147" transform="translate(478.3 2062.2)"><use href="#sq" class="nd"/><text x="6" y="3.6">ENSPRNP00000004416</text></g>
<g id="L148" transform="translate(473.3 2076.2)"><use href="#sq" class="nd"/><text x="6" y="3.6">cckb_COTGO</text></g>
<g id="L149" transform="translate(478.3 2090.2)"><use href="#sq" class="nd"/><text x="6" y="3.6">CCK_LARCR</text></g>
<g id="L150" transform="translate(470.3 2104.1)"><use href="#sq" class="nd"/><text x="6" y="3.6">cckb_ANATE</text></g>
<g id="L151" transform="translate(465.3 2118.1)"><use href="#sq" class="nd"/><text x="6" y="3.6">cckb_ENSMAM</text></g>
<g id="L152" transform="translate(510.3 2132)"><use href="#sq" class="nd"/><text x="6" y="3.6">cckb_ENSHHU</text></g>
<g id="L153" transform="translate(541.3 2146)"><use href="#sq" class="nd"/><text x="6" y="3.6">ENSHHUP00000041487</text></g>
<g id="L154" transform="translate(524.3 2159.9)"><use href="#sq" class="nd"/><text x="6" y="3.6">ENSELUP00000000714</text></g>
<g id="L155" transform="translate(489.3 2173.9)"><use href="#sq" class="nd"/><text x="6" y="3.6">ccka_ASTMX</text></g>
<g id="L156" transform="translate(489.3 2187.8)"><use href="#sq" class="nd"/><text x="6" y="3.6">ccka_ASTMX</text></g>
<g id="L157" transform="translate(490.3 2201.8)"><use href="#sq" class="nd"/><text x="6" y="3.6">ccka_ELEEL</text></g>
<g id="L158" transform="translate(491.3 2215.8)"><use href="#sq" class="nd"/><text x="6" y="3.6">ccka_DANRE</text></g>
<g id="L159" transform="translate(446.3 2229.7)"><use href="#sq" class="nd"/><text x="6" y="3.6">ccka_CLUHA</text></g>
<g id="L160" transform="translate(511.3 2243.7)"><use href="#sq" class="nd"/><text x="6" y="3.6">ccka_ENSDCD</text></g>
<g id="L161" transform="translate(584.3 2257.6)"><use href="#sq" class="nd"/><text x="6" y="3.6">ccka_TETNG</text></g>
<g id="L162" transform="translate(601.3 2271.6)"><use href="#sq" class="nd"/><text x="6" y="3.6">ccka_TAKRU</text></g>
<g id="L163" transform="translate(601.3 2285.5)"><use href="#sq" class="nd"/><text x="6" y="3.6">ccka_MOLML</text></g>
<g id="L164" transform="translate(556.3 2299.5)"><use href="#sq" class="nd"/><text x="6" y="3.6">ENSSLDP00000017951</text></g>
<g id="L165" transform="translate(553.3 2313.4)"><use href="#sq" class="nd"/><text x="6" y="3.6">ccka_SERDU</text></g>
<g id="L166" transform="translate(577.3 2327.4)"><use href="#sq" class="nd"/><text x="6" y="3.6">ccka_ENSLBE</text></g>
<g id="L167" transform="translate(561.3 2341.4)"><use href="#sq" class="nd"/><text x="6" y="3.6">ccka_COTGO</text></g>
<g id="L168" transform="translate(590.3 2355.3)"><use href="#sq" class="nd"/><text x="6" y="3.6">ccka_AMPOC</text></g>
<g id="L169" transform="translate(590.3 2369.3)"><use href="#sq" class="nd"/><text x="6" y="3.6">ccka_AMPPE</text></g>
<g id="L170" transform="translate(590.3 2383.2)"><use href="#sq" class="nd"/><text x="6" y="3.6">ENSAPOP00000021976</text></g>
<g id="L171" transform="translate(568.3 2397.2)"><use href="#sq" class="nd"/><text x="6" y="3.6">ccka_ENSSPA</text></g>
<g id="L172" transform="translate(615.3 2411.1)"><use href="#sq" class="nd"/><text x="6" y="3.6">ENSCVAP00000031883</text></g>
<g id="L173" transform="translate(616.3 2425.1)"><use href="#sq" class="nd"/><text x="6" y="3.6">ccka_FUNHE</text></g>
<g id="L174" transform="translate(614 2439.1)"><use href="#sq" class="nd"/><text x="6" y="3.6">ccka_POEFO</text></g>
<g id="L175" transform="translate(617.9 2453)"><use href="#sq" class="nd"/><text x="6" y="3.6">ccka_ENSPLA</text></g>
<g id="L176" transform="translate(616.4 2467)"><use href="#sq" class="nd"/><text x="6" y="3.6">ccka_ENSPME</text></g>
<g id="L177" transform="translate(614 2480.9)"><use href="#sq" class="nd"/><text x="6" y="3.6">ccka_POERE</text></g>
<g id="L178" transform="translate(609.5 2494.9)"><use href="#sq" class="nd"/><text x="6" y="3.6">ccka_XIPMA</text></g>
<g id="L179" transform="translate(599.2 2508.8)"><use href="#sq" class="nd"/><text x="6" y="3.6">ccka_KRYMA</text></g>
<g id="L180" transform="translate(599.2 2522.8)"><use href="#sq" class="nd"/><text x="6" y="3.6">ccka_ENSMZE</text></g>
<g id="L181" transform="translate(599.2 2536.8)"><use href="#sq" class="nd"/><text x="6" y="3.6">ccka_HAPBU</text></g>
<g id="L182" transform="translate(599.2 2550.7)"><use href="#sq" class="nd"/><text x="6" y="3.6">ccka_ASTCA</text></g>
<g id="L183" transform="translate(601.2 2564.7)"><use href="#sq" class="nd"/><text x="6" y="3.6">ccka_ENSPNY</text></g>
<g id="L184" transform="translate(602.7 2578.6)"><use href="#sq" class="nd"/><text x="6" y="3.6">ccka_NEOBR</text></g>
<g id="L185" transform="translate(595.8 2592.6)"><use href="#sq" class="nd"/><text x="6" y="3.6">ccka_ORENI</text></g>
<g id="L186" transform="translate(587.4 2606.5)"><use href="#sq" class="nd"/><text x="6" y="3.6">ENSACIP00000018080</text></g>
<g id="L187" transform="translate(590.4 2620.5)"><use href="#sq" class="nd"/><text x="6" y="3.6">ccka_CYNSE</text></g>
<g id="L188" transform="translate(567.8 2634.4)"><use href="#sq" class="nd"/><text x="6" y="3.6">ccka_ANATE</text></g>
<g id="L189" transform="translate(587.9 2648.4)"><use href="#sq" class="nd"/><text x="6" y="3.6">ccka_BETSP</text></g>
<g id="L190" transform="translate(488.7 2662.4)"><use href="#sq" class="nd"/><text x="6" y="3.6">ccka_ESOLU</text></g>
<g id="L191" transform="translate(236.7 2676.3)"><use href="#sq" class="nd"/><text x="6" y="3.6">ccka_LEPOC</text></g>
<g id="L192" transform="translate(217.6 2690.3)"><use href="#sq" class="nd"/><text x="6" y="3.6">ccka_ERPCA</text></g>
</g>
<g id="scale-bar">
<path d="M40.3 2713.7H100.7" stroke="#1432d2" stroke-width="2" fill="none"/>
<text class="sc" x="70.5" y="2726">0.34496</text>
</g>
</svg>
